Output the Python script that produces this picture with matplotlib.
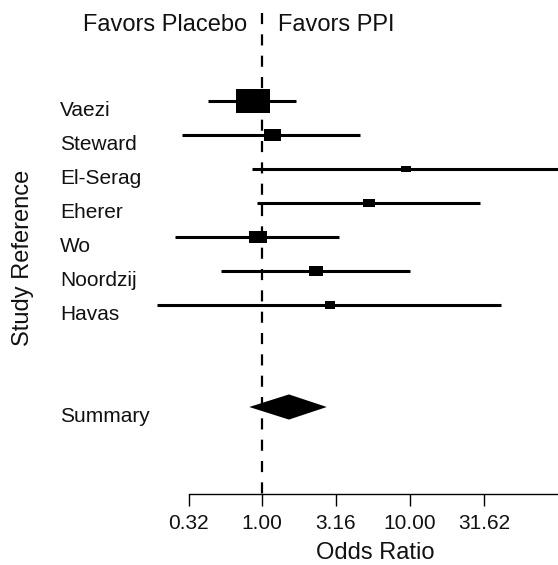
import matplotlib.pyplot as plt
from matplotlib.path import Path
from matplotlib.transforms import offset_copy

studies = ["Vaezi", "Steward", "El-Serag", "Eherer", "Wo", "Noordzij", "Havas"]
odds_ratio = [0.87, 1.17, 9.4, 5.27, 0.935, 2.31, 2.88]
ci_low = [0.43, 0.29, 0.86, 0.93, 0.26, 0.53, 0.194]
ci_high = [1.71, 4.6, 150.0, 29.9, 3.32, 10.0, 41.2]
weights = [1.0, 0.5, 0.3, 0.38, 0.54, 0.44, 0.32]

summary_or = 1.52
summary_low = 0.82
summary_high = 2.74

tick_values = [0.32, 1.0, 3.16, 10.0, 31.62]
tick_labels = ["0.32", "1.00", "3.16", "10.00", "31.62"]


def main() -> None:
    plt.rcParams["font.family"] = ["Liberation Sans", "DejaVu Sans"]

    fig = plt.figure(figsize=(5.58, 5.65), dpi=100)
    ax = fig.add_axes([0, 0, 1, 1])
    ax.set_xscale("log")
    # 1.00 sits at x=262 px, one decade = 148 px
    ax.set_xlim(10 ** (-262 / 148), 10 ** ((558 - 262) / 148))
    # row 0 at y=101 px, 34 px per row
    ax.set_ylim((565 - 101) / 34, -101 / 34)
    ax.patch.set_visible(False)

    rows = list(range(len(studies)))
    summary_row = 9
    axis_row = (494 - 101) / 34

    # reference line at OR = 1
    ax.plot([1, 1], [-2.6, axis_row], color="black", lw=1.6,
            linestyle=(0, (5.0, 4.6)), zorder=3)

    box = Path([(-1, -0.68), (1, -0.68), (1, 0.68), (-1, 0.68), (-1, -0.68)],
               [Path.MOVETO, Path.LINETO, Path.LINETO, Path.LINETO, Path.CLOSEPOLY])
    for r, est, lo, hi, w in zip(rows, odds_ratio, ci_low, ci_high, weights):
        ax.plot([lo, hi], [r, r], color="black", lw=2.2, solid_capstyle="butt", zorder=2)
        ax.plot([est], [r], marker=box, markersize=34 * 0.72 * w,
                color="black", markeredgewidth=0, zorder=2)

    ax.fill([summary_low, summary_or, summary_high, summary_or],
            [summary_row, summary_row - 0.37, summary_row, summary_row + 0.37],
            color="black", lw=0, zorder=2)

    label_trans = offset_copy(ax.get_yaxis_transform(), fig=fig, y=-10, units="dots")
    for r, name in zip(rows, studies):
        ax.text(60 / 558, r, name, transform=label_trans, fontsize=15,
                ha="left", va="center", color="#111111")
    ax.text(60 / 558, summary_row, "Summary", transform=label_trans, fontsize=15,
            ha="left", va="center", color="#111111")

    left_trans = offset_copy(ax.transData, fig=fig, x=-15, units="dots")
    right_trans = offset_copy(ax.transData, fig=fig, x=16, units="dots")
    ax.text(1, -101 / 34 + 25 / 34, "Favors Placebo", transform=left_trans,
            fontsize=17, ha="right", va="center", color="#111111")
    ax.text(1, -101 / 34 + 25 / 34, "Favors PPI", transform=right_trans,
            fontsize=17, ha="left", va="center", color="#111111")

    for side in ["top", "left", "right"]:
        ax.spines[side].set_visible(False)
    ax.spines["bottom"].set_position(("data", axis_row))
    ax.spines["bottom"].set_bounds(0.32, 1000)
    ax.spines["bottom"].set_linewidth(1.0)
    ax.set_xticks(tick_values)
    ax.set_xticklabels(tick_labels)
    ax.xaxis.set_minor_locator(plt.NullLocator())
    ax.tick_params(axis="x", direction="out", length=8.6, width=1.0,
                   labelsize=15, pad=6, labelcolor="#111111")
    ax.set_yticks([])

    ax.set_xlabel("Odds Ratio", fontsize=17, color="#111111")
    ax.xaxis.set_label_coords(375 / 558, 1 - 542 / 565)
    fig.text(23 / 558, 1 - 258 / 565, "Study Reference", rotation=90,
             fontsize=17, ha="center", va="center", color="#111111")

    fig.savefig("out.png", dpi=100)


if __name__ == "__main__":
    main()
